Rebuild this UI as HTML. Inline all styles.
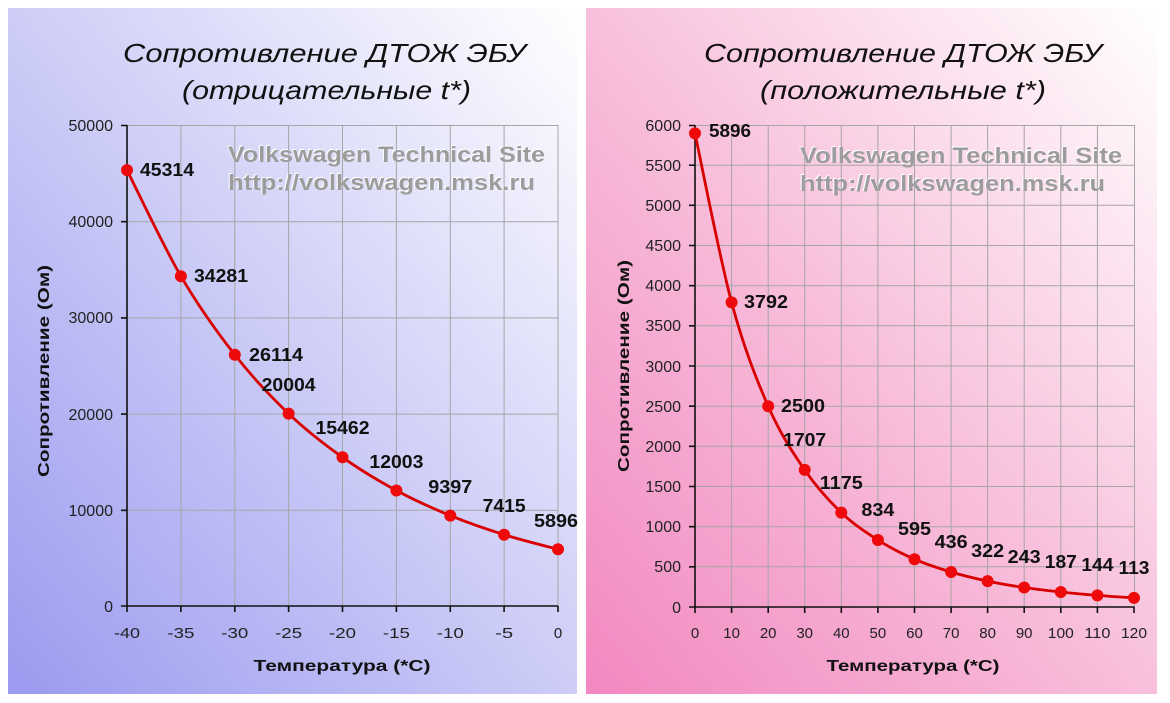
<!DOCTYPE html>
<html>
<head>
<meta charset="utf-8">
<style>
html,body{margin:0;padding:0;background:#fff;}
svg{display:block;}
text{font-family:"Liberation Sans","DejaVu Sans",sans-serif;}
.tick{font-size:16px;fill:#222;}
.xt{font-size:15px;fill:#222;}
.lbl{font-size:18px;font-weight:bold;fill:#111;}
.ttl{font-size:26px;font-style:italic;fill:#111;}
.ax{font-size:16px;font-weight:bold;fill:#111;}
.wm{font-size:22px;font-weight:bold;}
.grid{stroke:#a6a6a6;stroke-width:1;fill:none;}
.axis{stroke:#111;stroke-width:1.6;fill:none;}
.ser{stroke:#d80000;stroke-width:2.8;fill:none;}
.mk{fill:#ee0a0a;}
</style>
</head>
<body>
<svg width="1170" height="703" viewBox="0 0 1170 703" xmlns="http://www.w3.org/2000/svg">
<defs>
<linearGradient id="gb" x1="0" y1="1" x2="1" y2="0">
<stop offset="0" stop-color="#9a9af0"/>
<stop offset="0.5" stop-color="#cdcdf7"/>
<stop offset="1" stop-color="#ffffff"/>
</linearGradient>
<linearGradient id="gp" x1="0" y1="1" x2="1" y2="0">
<stop offset="0" stop-color="#f288c0"/>
<stop offset="0.5" stop-color="#f8c0dc"/>
<stop offset="1" stop-color="#ffffff"/>
</linearGradient>
</defs>
<rect x="0" y="0" width="1170" height="703" fill="#fff"/>
<rect x="8" y="8" width="569" height="686" fill="url(#gb)"/>
<rect x="586" y="8" width="571" height="686" fill="url(#gp)"/>

<!-- ============ LEFT CHART ============ -->
<text class="ttl" x="123" y="62" textLength="403" lengthAdjust="spacingAndGlyphs">Сопротивление ДТОЖ  ЭБУ</text>
<text class="ttl" x="182" y="99" textLength="289" lengthAdjust="spacingAndGlyphs">(отрицательные t*)</text>

<g>
<text class="wm" x="227" y="161" fill="#ffffff" textLength="317" lengthAdjust="spacingAndGlyphs">Volkswagen Technical Site</text>
<text class="wm" x="227" y="189" fill="#ffffff" textLength="307" lengthAdjust="spacingAndGlyphs">http://volkswagen.msk.ru</text>
<text class="wm" x="228" y="162" fill="#9c9c9c" textLength="317" lengthAdjust="spacingAndGlyphs">Volkswagen Technical Site</text>
<text class="wm" x="228" y="190" fill="#9c9c9c" textLength="307" lengthAdjust="spacingAndGlyphs">http://volkswagen.msk.ru</text>
</g>

<g class="grid">
<path d="M127 125.5H558M127 221.7H558M127 317.9H558M127 414.1H558M127 510.3H558"/>
<path d="M180.9 125V606M234.8 125V606M288.6 125V606M342.5 125V606M396.4 125V606M450.3 125V606M504.1 125V606M558 125V606"/>
</g>
<g class="axis">
<path d="M127 125V606H558"/>
<path d="M121 125.5H127M121 221.7H127M121 317.9H127M121 414.1H127M121 510.3H127M121 606H127"/>
<path d="M127 606V612M180.9 606V612M234.8 606V612M288.6 606V612M342.5 606V612M396.4 606V612M450.3 606V612M504.1 606V612M558 606V612"/>
</g>
<g class="tick" text-anchor="end">
<text x="113" y="131">50000</text>
<text x="113" y="227">40000</text>
<text x="113" y="323">30000</text>
<text x="113" y="420">20000</text>
<text x="113" y="516">10000</text>
<text x="113" y="612">0</text>
</g>
<g class="xt" text-anchor="middle">
<text x="127" y="638" textLength="26" lengthAdjust="spacingAndGlyphs">-40</text>
<text x="180.9" y="638" textLength="27" lengthAdjust="spacingAndGlyphs">-35</text>
<text x="234.8" y="638" textLength="27" lengthAdjust="spacingAndGlyphs">-30</text>
<text x="288.6" y="638" textLength="27" lengthAdjust="spacingAndGlyphs">-25</text>
<text x="342.5" y="638" textLength="27" lengthAdjust="spacingAndGlyphs">-20</text>
<text x="396.4" y="638" textLength="27" lengthAdjust="spacingAndGlyphs">-15</text>
<text x="450.3" y="638" textLength="27" lengthAdjust="spacingAndGlyphs">-10</text>
<text x="504.1" y="638" textLength="18" lengthAdjust="spacingAndGlyphs">-5</text>
<text x="558" y="638">0</text>
</g>
<text class="ax" x="342" y="671" text-anchor="middle" textLength="177" lengthAdjust="spacingAndGlyphs">Температура (*С)</text>
<text class="ax" transform="translate(49,371) rotate(-90)" text-anchor="middle" textLength="212" lengthAdjust="spacingAndGlyphs">Сопротивление (Ом)</text>

<path class="ser" d="M127 170.1C136 187.8 162.9 245.4 180.9 276.2C198.9 307 216.85 331.9 234.8 354.8C252.75 377.7 270.65 396.5 288.6 413.6C306.55 430.7 324.5 444.5 342.5 457.3C360.5 470.1 378.4 480.8 396.4 490.5C414.4 500.2 432.35 508.2 450.3 515.6C468.25 523 486.15 529.1 504.1 534.7C522.05 540.3 549 546.9 558 549.3"/>
<g class="mk">
<circle cx="127" cy="170.1" r="6"/>
<circle cx="180.9" cy="276.2" r="6"/>
<circle cx="234.8" cy="354.8" r="6"/>
<circle cx="288.6" cy="413.6" r="6"/>
<circle cx="342.5" cy="457.3" r="6"/>
<circle cx="396.4" cy="490.5" r="6"/>
<circle cx="450.3" cy="515.6" r="6"/>
<circle cx="504.1" cy="534.7" r="6"/>
<circle cx="558" cy="549.3" r="6"/>
</g>
<g class="lbl">
<text x="140" y="176" textLength="54" lengthAdjust="spacingAndGlyphs">45314</text>
<text x="194" y="282" textLength="54" lengthAdjust="spacingAndGlyphs">34281</text>
<text x="249" y="361" textLength="54" lengthAdjust="spacingAndGlyphs">26114</text>
</g>
<g class="lbl" text-anchor="middle">
<text x="288.6" y="391" textLength="54" lengthAdjust="spacingAndGlyphs">20004</text>
<text x="342.5" y="434" textLength="54" lengthAdjust="spacingAndGlyphs">15462</text>
<text x="396.4" y="468" textLength="54" lengthAdjust="spacingAndGlyphs">12003</text>
<text x="450.3" y="493" textLength="44" lengthAdjust="spacingAndGlyphs">9397</text>
<text x="504.1" y="512" textLength="43" lengthAdjust="spacingAndGlyphs">7415</text>
<text x="556" y="527" textLength="44" lengthAdjust="spacingAndGlyphs">5896</text>
</g>

<!-- ============ RIGHT CHART ============ -->
<text class="ttl" x="704" y="62" textLength="398" lengthAdjust="spacingAndGlyphs">Сопротивление ДТОЖ  ЭБУ</text>
<text class="ttl" x="760" y="99" textLength="286" lengthAdjust="spacingAndGlyphs">(положительные t*)</text>

<g>
<text class="wm" x="799" y="162" fill="#ffffff" textLength="322" lengthAdjust="spacingAndGlyphs">Volkswagen Technical Site</text>
<text class="wm" x="799" y="190" fill="#ffffff" textLength="305" lengthAdjust="spacingAndGlyphs">http://volkswagen.msk.ru</text>
<text class="wm" x="800" y="163" fill="#9c9c9c" textLength="322" lengthAdjust="spacingAndGlyphs">Volkswagen Technical Site</text>
<text class="wm" x="800" y="191" fill="#9c9c9c" textLength="305" lengthAdjust="spacingAndGlyphs">http://volkswagen.msk.ru</text>
</g>

<g class="grid">
<path d="M695 125.5H1134.5M695 165.2H1134.5M695 205.3H1134.5M695 245.5H1134.5M695 285.7H1134.5M695 325.8H1134.5M695 366H1134.5M695 406.2H1134.5M695 446.3H1134.5M695 486.5H1134.5M695 526.7H1134.5M695 566.8H1134.5"/>
<path d="M731.6 125V607M768.2 125V607M804.7 125V607M841.3 125V607M877.9 125V607M914.5 125V607M951.1 125V607M987.6 125V607M1024.2 125V607M1060.8 125V607M1097.4 125V607M1134.5 125V607"/>
</g>
<g class="axis">
<path d="M695 125V607H1134.5"/>
<path d="M689 125.5H695M689 165.2H695M689 205.3H695M689 245.5H695M689 285.7H695M689 325.8H695M689 366H695M689 406.2H695M689 446.3H695M689 486.5H695M689 526.7H695M689 566.8H695M689 607H695"/>
<path d="M695 607V613M731.6 607V613M768.2 607V613M804.7 607V613M841.3 607V613M877.9 607V613M914.5 607V613M951.1 607V613M987.6 607V613M1024.2 607V613M1060.8 607V613M1097.4 607V613M1134 607V613"/>
</g>
<g class="tick" text-anchor="end">
<text x="681" y="131">6000</text>
<text x="681" y="171">5500</text>
<text x="681" y="211">5000</text>
<text x="681" y="251">4500</text>
<text x="681" y="291">4000</text>
<text x="681" y="331">3500</text>
<text x="681" y="372">3000</text>
<text x="681" y="412">2500</text>
<text x="681" y="452">2000</text>
<text x="681" y="492">1500</text>
<text x="681" y="532">1000</text>
<text x="681" y="572">500</text>
<text x="681" y="613">0</text>
</g>
<g class="xt" text-anchor="middle">
<text x="695" y="638">0</text>
<text x="731.6" y="638">10</text>
<text x="768.2" y="638">20</text>
<text x="804.7" y="638">30</text>
<text x="841.3" y="638">40</text>
<text x="877.9" y="638">50</text>
<text x="914.5" y="638">60</text>
<text x="951.1" y="638">70</text>
<text x="987.6" y="638">80</text>
<text x="1024.2" y="638">90</text>
<text x="1060.8" y="638" textLength="26" lengthAdjust="spacingAndGlyphs">100</text>
<text x="1097.4" y="638" textLength="26" lengthAdjust="spacingAndGlyphs">110</text>
<text x="1134" y="638" textLength="26" lengthAdjust="spacingAndGlyphs">120</text>
</g>
<text class="ax" x="913" y="671" text-anchor="middle" textLength="173" lengthAdjust="spacingAndGlyphs">Температура (*С)</text>
<text class="ax" transform="translate(629,366) rotate(-90)" text-anchor="middle" textLength="212" lengthAdjust="spacingAndGlyphs">Сопротивление (Ом)</text>

<path class="ser" d="M695 133.4C701.1 161.6 719.4 256.9 731.6 302.4C743.8 347.9 756 378.3 768.2 406.2C780.4 434.1 792.5 452.2 804.7 469.9C816.9 487.6 829.1 500.9 841.3 512.6C853.5 524.3 865.7 532.2 877.9 540C890.1 547.8 902.3 553.9 914.5 559.2C926.7 564.5 938.9 568.4 951.1 572C963.3 575.7 975.4 578.5 987.6 581.1C999.8 583.7 1012 585.7 1024.2 587.5C1036.4 589.3 1048.6 590.7 1060.8 592C1073 593.3 1085.2 594.4 1097.4 595.4C1109.6 596.4 1127.9 597.5 1134 597.9"/>
<g class="mk">
<circle cx="695" cy="133.4" r="6"/>
<circle cx="731.6" cy="302.4" r="6"/>
<circle cx="768.2" cy="406.2" r="6"/>
<circle cx="804.7" cy="469.9" r="6"/>
<circle cx="841.3" cy="512.6" r="6"/>
<circle cx="877.9" cy="540" r="6"/>
<circle cx="914.5" cy="559.2" r="6"/>
<circle cx="951.1" cy="572" r="6"/>
<circle cx="987.6" cy="581.1" r="6"/>
<circle cx="1024.2" cy="587.5" r="6"/>
<circle cx="1060.8" cy="592" r="6"/>
<circle cx="1097.4" cy="595.4" r="6"/>
<circle cx="1134" cy="597.9" r="6"/>
</g>
<g class="lbl">
<text x="709" y="137" textLength="42" lengthAdjust="spacingAndGlyphs">5896</text>
<text x="744" y="308" textLength="44" lengthAdjust="spacingAndGlyphs">3792</text>
<text x="781" y="412" textLength="44" lengthAdjust="spacingAndGlyphs">2500</text>
</g>
<g class="lbl" text-anchor="middle">
<text x="804.7" y="446" textLength="43" lengthAdjust="spacingAndGlyphs">1707</text>
<text x="841.3" y="489" textLength="43" lengthAdjust="spacingAndGlyphs">1175</text>
<text x="877.9" y="516" textLength="33" lengthAdjust="spacingAndGlyphs">834</text>
<text x="914.5" y="535" textLength="33" lengthAdjust="spacingAndGlyphs">595</text>
<text x="951.1" y="548" textLength="33" lengthAdjust="spacingAndGlyphs">436</text>
<text x="987.6" y="557" textLength="33" lengthAdjust="spacingAndGlyphs">322</text>
<text x="1024.2" y="563" textLength="33" lengthAdjust="spacingAndGlyphs">243</text>
<text x="1060.8" y="568" textLength="32" lengthAdjust="spacingAndGlyphs">187</text>
<text x="1097.4" y="571" textLength="32" lengthAdjust="spacingAndGlyphs">144</text>
<text x="1134" y="574" textLength="31" lengthAdjust="spacingAndGlyphs">113</text>
</g>
</svg>
</body>
</html>
